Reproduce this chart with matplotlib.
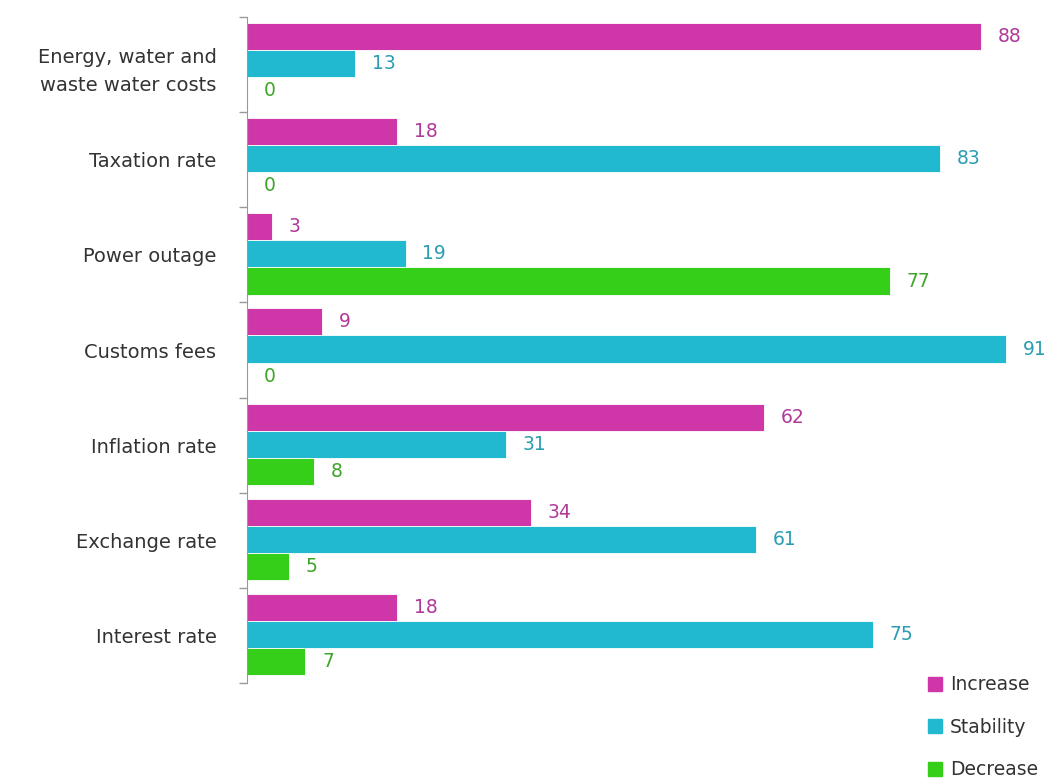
import numpy as np
import matplotlib.pyplot as plt
import matplotlib.patches as mpatches

categories = ['Energy, water and\nwaste water costs', 'Taxation rate', 'Power outage',
              'Customs fees', 'Inflation rate', 'Exchange rate', 'Interest rate']
increase = [88, 18, 3, 9, 62, 34, 18]
stability = [13, 83, 19, 91, 31, 61, 75]
decrease = [0, 0, 77, 0, 8, 5, 7]

series = [('Increase', increase, '#CF37A8', '#B0399A'),
          ('Stability', stability, '#20B9CF', '#2A9DB2'),
          ('Decrease', decrease, '#35CF19', '#3EA52B')]

plt.rcParams['font.family'] = ['DejaVu Sans']

fig = plt.figure(figsize=(10.59, 7.78), dpi=100)
ax = fig.add_axes([247/1059, 1-683/778, 1-247/1059, 666/778])

y = np.arange(len(categories))
h = 0.285
for k, (name, vals, col, tcol) in enumerate(series):
    pos = y + (k - 1) * h - 0.01
    ax.barh(pos, vals, height=h, color=col, edgecolor='white', linewidth=0.6)
    for p, v in zip(pos, vals):
        ax.text(v + 2.0, p, str(v), va='center', ha='left', color=tcol, fontsize=13.5)

ax.set_xlim(0, 97.3)
ax.set_ylim(len(categories) - 0.5, -0.5)
ax.set_yticks(y)
ax.set_yticklabels(categories, fontsize=14, color='#333333', linespacing=1.65)
ax.set_yticks(np.arange(len(categories) + 1) - 0.5, minor=True)
ax.tick_params(axis='y', which='major', length=0, pad=22)
ax.tick_params(axis='y', which='minor', length=6, color='#999999', width=1)
ax.set_xticks([])
for s in ['top', 'right', 'bottom']:
    ax.spines[s].set_visible(False)
ax.spines['left'].set_color('#999999')

handles = [mpatches.Patch(color=c, label=n) for n, _, c, _ in series]
fig.legend(handles=handles, loc='upper left', bbox_to_anchor=(919/1059, 1-666/778),
           frameon=False, fontsize=13.5, labelspacing=1.25, handlelength=0.75,
           handleheight=0.75, handletextpad=0.4, borderpad=0, labelcolor='#333333')

fig.savefig('out.png', dpi=100)
